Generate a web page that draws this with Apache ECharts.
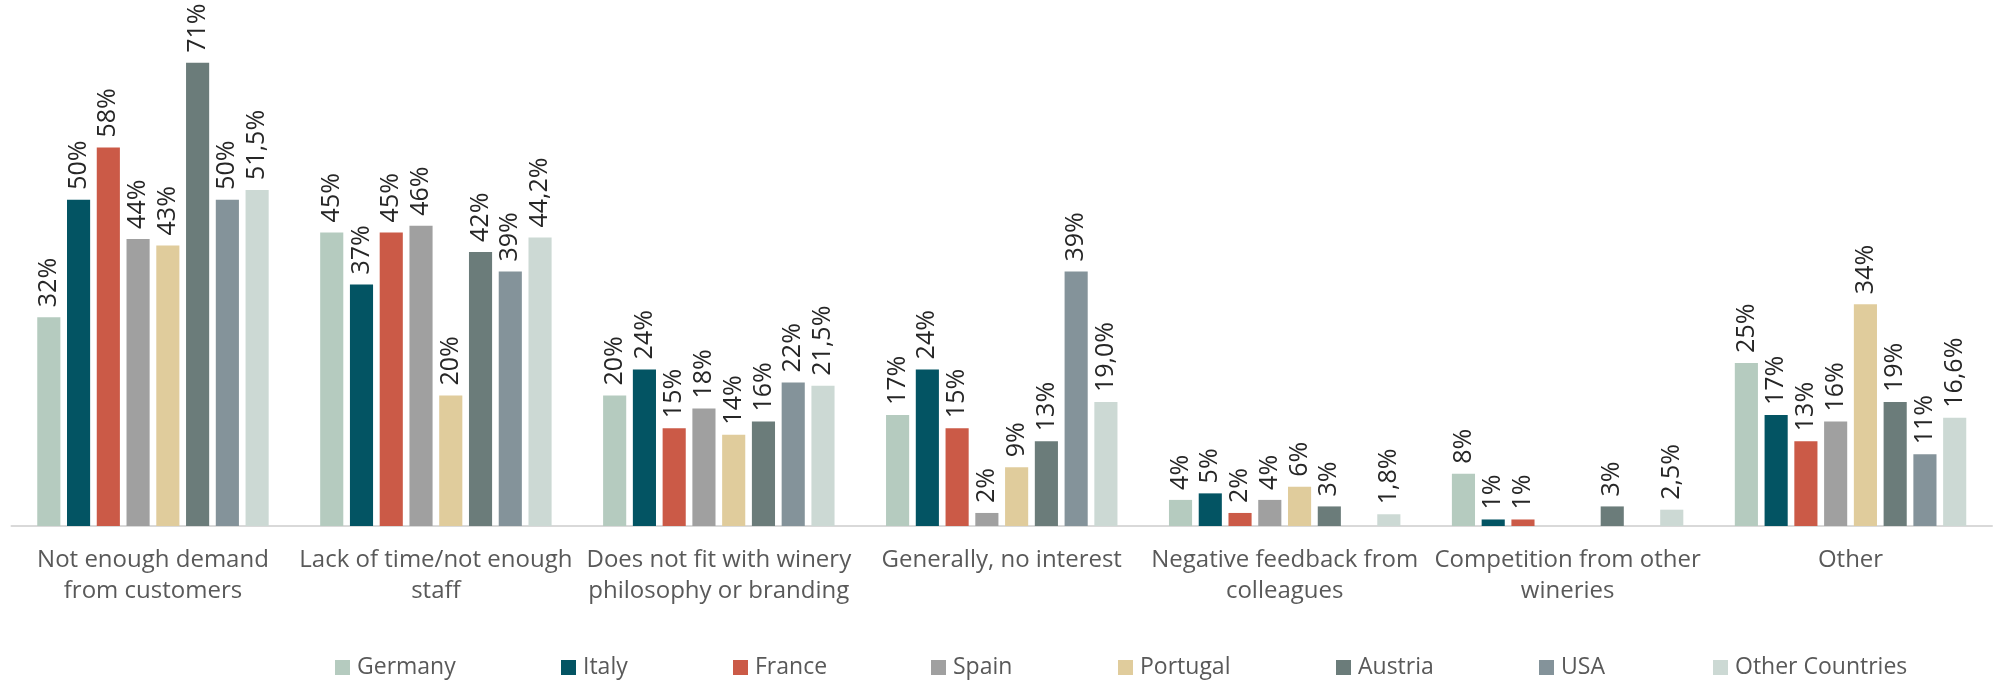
<!DOCTYPE html>
<html>
<head>
<meta charset="utf-8">
<script src="https://cdn.jsdelivr.net/npm/echarts@6/dist/echarts.min.js"></script>
<style>
  html, body { margin: 0; padding: 0; background: #fff; }
  #report-container { width: 1996px; height: 681px; }
</style>
</head>
<body>
<div id="report-container"></div>
<script>
var categories = [
    'Not enough demand\nfrom customers',
    'Lack of time/not enough\nstaff',
    'Does not fit with winery\nphilosophy or branding',
    'Generally, no interest',
    'Negative feedback from\ncolleagues',
    'Competition from other\nwineries',
    'Other'
];
var countries = ['Germany', 'Italy', 'France', 'Spain', 'Portugal', 'Austria', 'USA', 'Other Countries'];
var germany = [32, 45, 20, 17, 4, 8, 25];
var italy = [50, 37, 24, 24, 5, 1, 17];
var france = [58, 45, 15, 15, 2, 1, 13];
var spain = [44, 46, 18, 2, 4, null, 16];
var portugal = [43, 20, 14, 9, 6, null, 34];
var austria = [71, 42, 16, 13, 3, 3, 19];
var usa = [50, 39, 22, 39, null, null, 11];
var otherCountries = [51.5, 44.2, 21.5, 19.0, 1.8, 2.5, 16.6];

var seriesData = [germany, italy, france, spain, portugal, austria, usa, otherCountries];
var colors = ['#b5cbbf', '#035463', '#cb5a47', '#a0a0a0', '#e0cc9c', '#6b7c7a', '#84939a', '#ccd9d4'];
// legend entries sit where excel put them
var legendLeft = [330, 556, 728, 926, 1113, 1331, 1534, 1708];

var dom = document.getElementById('report-container');
var myChart = echarts.init(dom);

function fmt(p) {
    if (p.value == null) return '';
    if (p.seriesName === 'Other Countries') {
        return p.value.toFixed(1).replace('.', ',') + '%';
    }
    return Math.round(p.value) + '%';
}

var series = countries.map(function (name, i) {
    return {
        name: name,
        type: 'bar',
        data: seriesData[i],
        barGap: '28.7%',
        barCategoryGap: '18.2%',
        itemStyle: { color: colors[i] },
        label: {
            show: true,
            position: 'top',
            rotate: 90,
            align: 'left',
            verticalAlign: 'middle',
            distance: 10,
            fontFamily: 'Open Sans',
            fontSize: 25,
            color: '#262626',
            formatter: fmt
        }
    };
});

var legends = countries.map(function (name, i) {
    return {
        data: [name],
        left: legendLeft[i],
        top: 651,
        icon: 'rect',
        itemWidth: 15,
        itemHeight: 15,
        textStyle: {
            fontFamily: 'Open Sans',
            fontSize: 23,
            color: '#595959',
            padding: [0, 0, 0, 2]
        }
    };
});

var option = {
    animation: false,
    color: colors,
    legend: legends,
    grid: {
        left: 11.5,
        right: 4,
        top: 4,
        bottom: 155,
        containLabel: false
    },
    xAxis: [{
        type: 'category',
        data: categories,
        axisTick: { show: false },
        axisLine: { lineStyle: { color: '#d9d9d9', width: 2 } },
        axisLabel: {
            interval: 0,
            margin: 19,
            fontFamily: 'Open Sans',
            fontSize: 24,
            lineHeight: 31,
            color: '#595959'
        }
    }],
    yAxis: [{
        type: 'value',
        min: 0,
        max: 80,
        show: false,
        splitLine: { show: false }
    }],
    series: series
};

if (option && typeof option === 'object') {
    myChart.setOption(option, true);
}
</script>
</body>
</html>
